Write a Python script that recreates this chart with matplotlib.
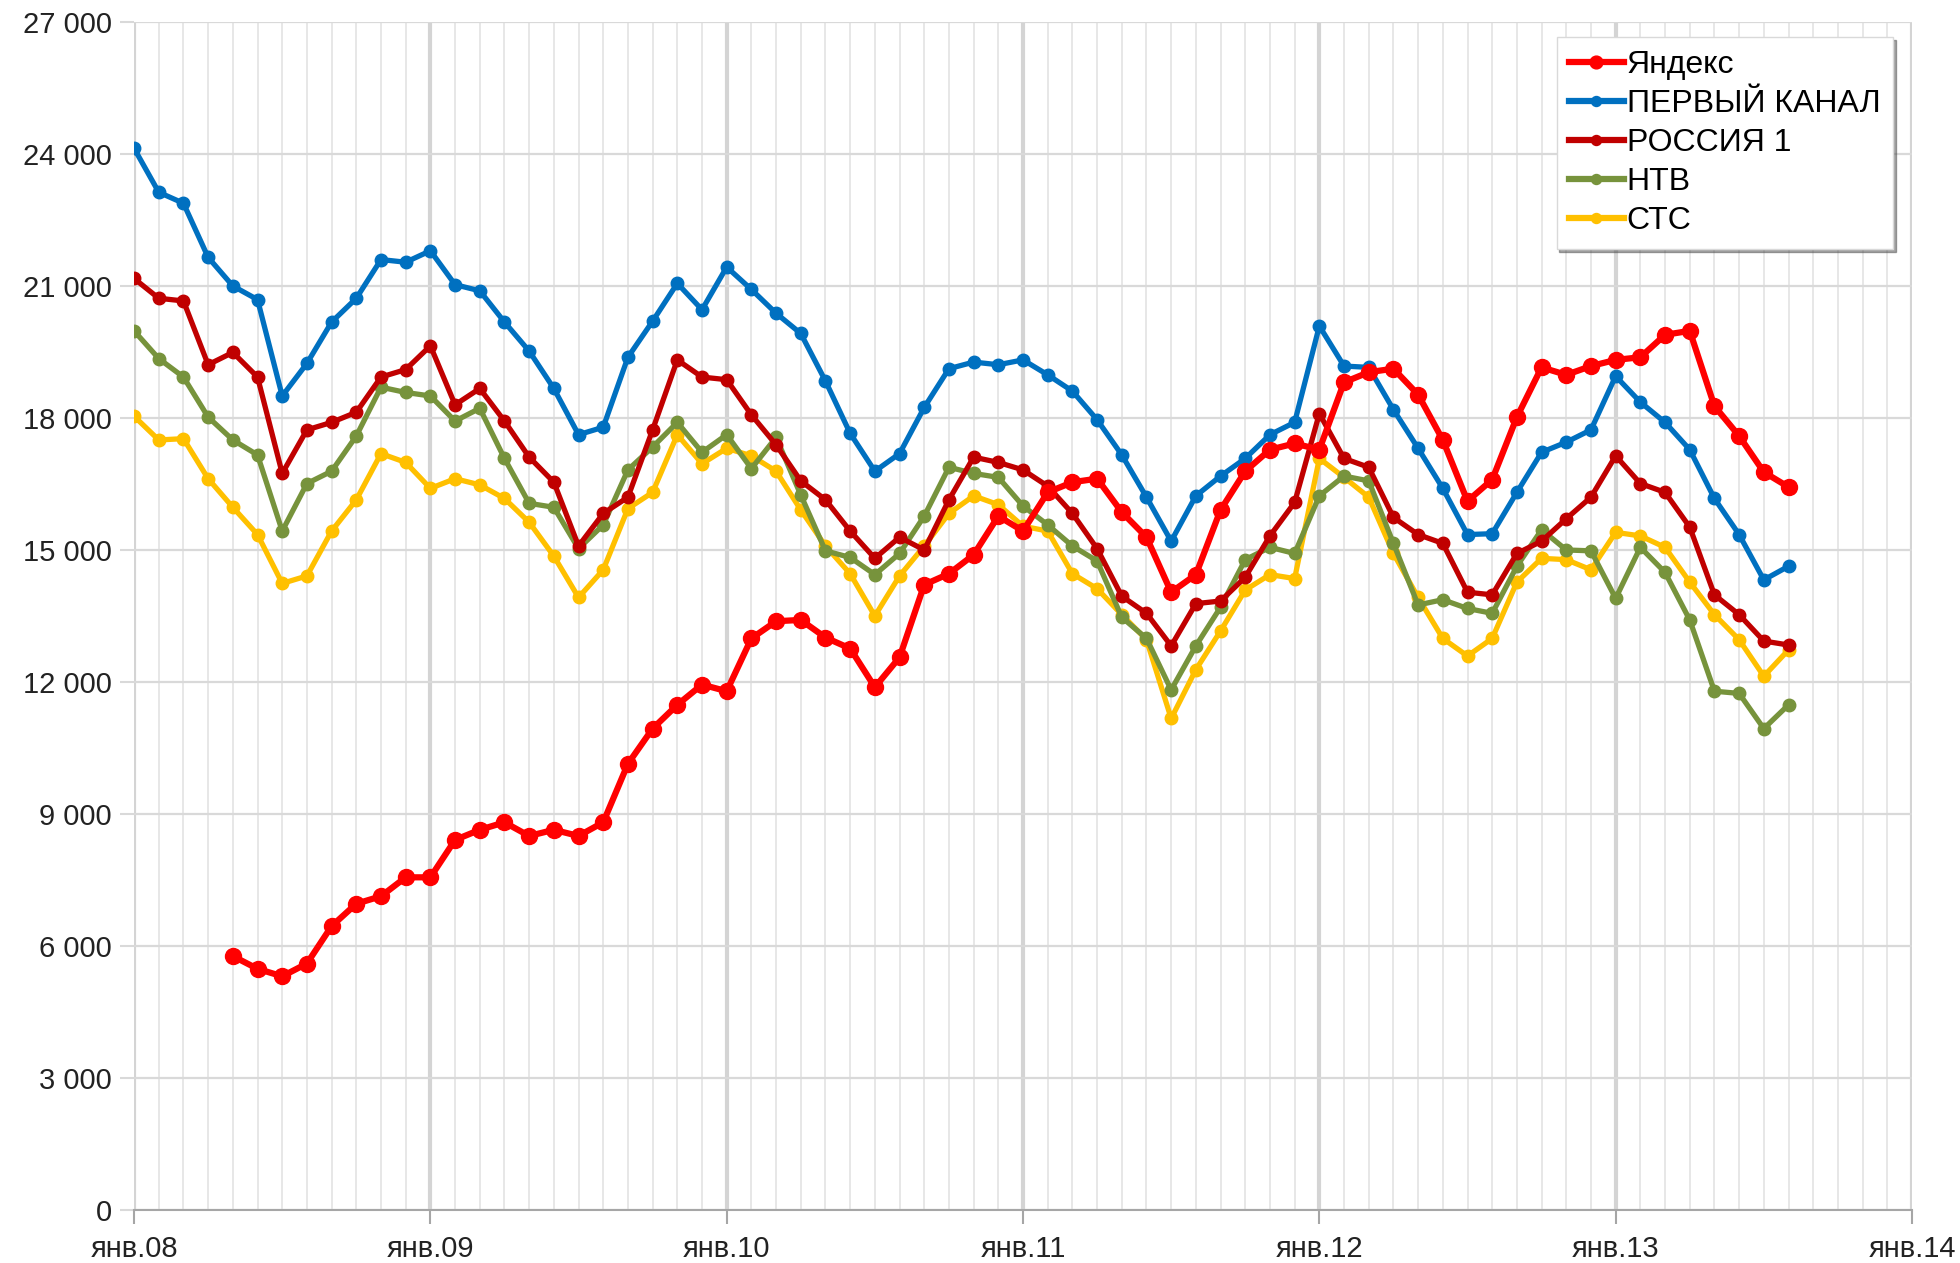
import numpy as np
import matplotlib; matplotlib.use("Agg")
import matplotlib.pyplot as plt
from matplotlib.ticker import FuncFormatter, MultipleLocator

plt.rcParams["font.family"] = ["Liberation Sans", "DejaVu Sans"]

# month index: 0 = янв.08
year_labels = ["янв.08", "янв.09", "янв.10", "янв.11", "янв.12", "янв.13", "янв.14"]

yandex_start = 4  # май 2008
yandex = [5770, 5480, 5310, 5600, 6450, 6960, 7130, 7560, 7560, 8410, 8640, 8810,
          8500, 8640, 8500, 8810, 10140, 10940, 11480, 11940, 11790, 12990, 13380, 13410,
          13010, 12760, 11880, 12560, 14210, 14460, 14890, 15770, 15430, 16310, 16540, 16620,
          15860, 15290, 14040, 14440, 15910, 16790, 17280, 17420, 17280, 18810, 19040, 19120,
          18530, 17500, 16110, 16600, 18020, 19150, 18980, 19180, 19320, 19380, 19890, 19980,
          18270, 17590, 16770, 16430]

perviy = [24130, 23130, 22880, 21650, 21000, 20690, 18500, 19240, 20180, 20720, 21600, 21540,
          21800, 21030, 20890, 20180, 19520, 18670, 17620, 17790, 19380, 20200, 21060, 20460,
          21430, 20920, 20380, 19920, 18840, 17650, 16790, 17190, 18240, 19120, 19270, 19210,
          19320, 18980, 18610, 17960, 17160, 16200, 15200, 16230, 16680, 17080, 17620, 17900,
          20090, 19180, 19150, 18190, 17310, 16400, 15350, 15370, 16310, 17220, 17450, 17730,
          18950, 18360, 17900, 17280, 16170, 15350, 14320, 14630]

rossiya = [21170, 20720, 20660, 19210, 19490, 18930, 16740, 17730, 17900, 18130, 18930, 19100,
           19640, 18300, 18670, 17930, 17110, 16540, 15090, 15830, 16200, 17730, 19320, 18930,
           18870, 18070, 17390, 16570, 16140, 15430, 14810, 15290, 15000, 16140, 17110, 16990,
           16820, 16450, 15830, 15030, 13950, 13560, 12820, 13780, 13840, 14380, 15320, 16080,
           18100, 17080, 16880, 15740, 15350, 15150, 14040, 13980, 14920, 15200, 15710, 16200,
           17140, 16510, 16310, 15520, 13980, 13530, 12930, 12840]

ntv = [19980, 19350, 18930, 18020, 17500, 17160, 15430, 16510, 16790, 17590, 18700, 18580,
       18500, 17930, 18220, 17080, 16060, 15970, 15030, 15570, 16820, 17340, 17900, 17220,
       17620, 16850, 17560, 16250, 14980, 14830, 14440, 14920, 15770, 16880, 16740, 16650,
       16000, 15570, 15090, 14750, 13470, 12990, 11820, 12820, 13700, 14780, 15060, 14920,
       16230, 16680, 16570, 15150, 13750, 13870, 13670, 13560, 14630, 15460, 15000, 14980,
       13900, 15060, 14490, 13410, 11790, 11740, 10940, 11480]

sts = [18040, 17500, 17530, 16620, 15970, 15350, 14240, 14410, 15430, 16140, 17190, 16990,
       16400, 16620, 16480, 16170, 15630, 14860, 13920, 14550, 15940, 16310, 17620, 16960,
       17310, 17140, 16790, 15910, 15090, 14460, 13500, 14410, 15090, 15830, 16230, 16030,
       15540, 15430, 14460, 14120, 13530, 12960, 11170, 12280, 13160, 14090, 14440, 14350,
       17080, 16650, 16200, 14920, 13920, 12990, 12590, 12990, 14270, 14810, 14780, 14550,
       15400, 15320, 15060, 14270, 13530, 12960, 12130, 12730]

RED = "#FF0000"; BLUE = "#0070C0"; DARKRED = "#C00000"; GREEN = "#77933C"; YELLOW = "#FFC000"

fig = plt.figure(figsize=(19.6, 12.63), dpi=100)
ax = fig.add_axes([0.0684, 0.042, 0.9071, 0.9406])

m = np.arange(len(perviy))
my = np.arange(yandex_start, yandex_start + len(yandex))

ax.plot(m, sts, color=YELLOW, lw=3.8, marker="o", ms=9, label="СТС", zorder=3)
ax.plot(m, ntv, color=GREEN, lw=3.8, marker="o", ms=9, label="НТВ", zorder=4)
ax.plot(m, rossiya, color=DARKRED, lw=3.8, marker="o", ms=9, label="РОССИЯ 1", zorder=5)
ax.plot(m, perviy, color=BLUE, lw=3.8, marker="o", ms=9, label="ПЕРВЫЙ КАНАЛ", zorder=6)
ax.plot(my, yandex, color=RED, lw=4.5, marker="o", ms=11.5, label="Яндекс", zorder=7)

ax.set_xlim(0, 72)
ax.set_ylim(0, 27000)
ax.xaxis.set_minor_locator(MultipleLocator(1))
ax.set_xticks(np.arange(0, 73, 12))
ax.set_xticklabels(year_labels)
ax.yaxis.set_major_locator(MultipleLocator(3000))
ax.yaxis.set_major_formatter(FuncFormatter(lambda v, p: f"{int(v):,}".replace(",", " ")))

ax.grid(which="minor", axis="x", color="#E3E3E3", lw=1.2, zorder=0)
ax.grid(which="major", axis="x", color="#D4D4D4", lw=3.0, zorder=0)
ax.grid(which="major", axis="y", color="#D9D9D9", lw=1.6, zorder=0)
ax.set_axisbelow(True)

for s in ("top", "right", "left"):
    ax.spines[s].set_visible(False)
ax.spines["bottom"].set_color("#A6A6A6")
ax.spines["bottom"].set_linewidth(1.5)
ax.tick_params(axis="x", which="major", length=10, width=1.5, color="#A6A6A6",
               labelsize=21, pad=8, labelcolor="#222222")
ax.tick_params(axis="x", which="minor", length=0)
ax.tick_params(axis="y", length=10, width=1.5, color="#D9D9D9", labelsize=21, pad=6,
               labelcolor="#222222")

h, l = ax.get_legend_handles_labels()
order = [4, 3, 2, 1, 0]
leg = ax.legend([h[i] for i in order], [l[i] for i in order], loc="upper right",
                bbox_to_anchor=(0.9895, 0.987), borderaxespad=0, fontsize=23, frameon=True,
                shadow=True, fancybox=False, handlelength=1.7, handletextpad=0.1,
                labelspacing=0.28, borderpad=0.4, markerscale=0.8)
leg.get_frame().set_edgecolor("#D9D9D9")
leg.get_frame().set_facecolor("white")
for lh in leg.get_lines():
    lh.set_linewidth(4.5)

fig.savefig("out.png", dpi=100)
